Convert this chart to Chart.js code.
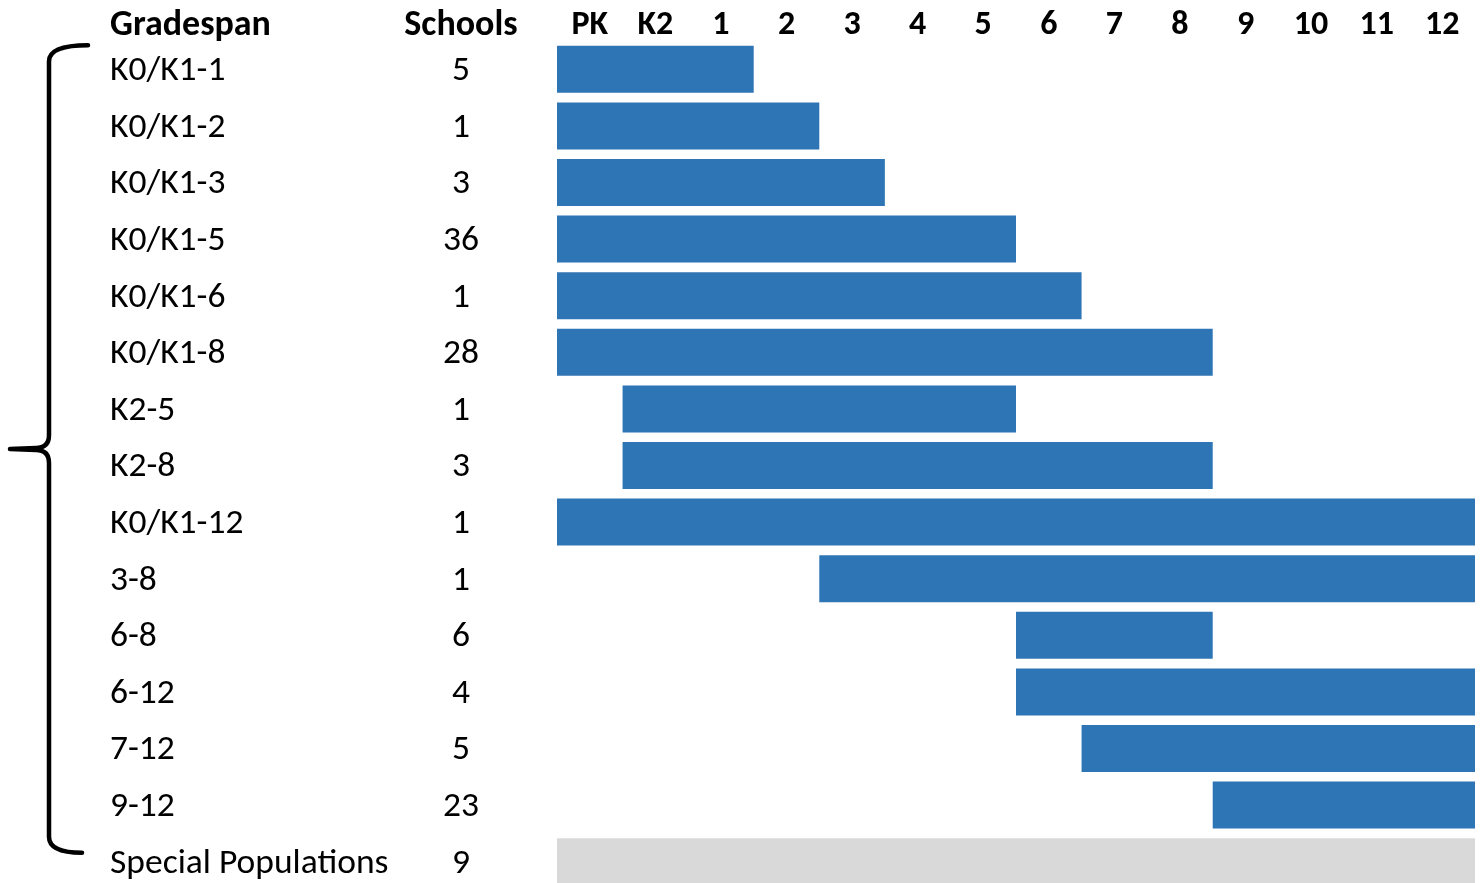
<!DOCTYPE html>
<html>
<head>
<meta charset="utf-8">
<script src="https://cdn.jsdelivr.net/npm/chart.js@4.4.1/dist/chart.umd.min.js"></script>
<style>
  html, body { margin: 0; padding: 0; background: #fff; overflow: hidden; }
  #wrap { width: 1480px; height: 892px; }
</style>
</head>
<body>
<div id="wrap"><canvas id="chart"></canvas></div>
<script>
// строки таблицы
const gradespans = ["K0/K1-1", "K0/K1-2", "K0/K1-3", "K0/K1-5", "K0/K1-6", "K0/K1-8",
  "K2-5", "K2-8", "K0/K1-12", "3-8", "6-8", "6-12", "7-12", "9-12", "Special Populations"];
const schools = [5, 1, 3, 36, 1, 28, 1, 3, 1, 1, 6, 4, 5, 23, 9];

// столбцы классов сверху
const grades = ["PK", "K2", "1", "2", "3", "4", "5", "6", "7", "8", "9", "10", "11", "12"];

// первый и последний класс каждой полосы (как нарисовано)
const spanFrom = ["PK", "PK", "PK", "PK", "PK", "PK", "K2", "K2", "PK", "3", "6", "6", "7", "9", "PK"];
const spanTo   = ["1", "2", "3", "5", "6", "8", "5", "8", "12", "12", "8", "12", "12", "12", "12"];

const BLUE = "#2E75B6", GREY = "#D9D9D9";
const FONT = "Carlito, Calibri, Lato, sans-serif";

const bars = spanFrom.map((g, i) => [grades.indexOf(g), grades.indexOf(spanTo[i]) + 1]);
const colors = gradespans.map(n => n === "Special Populations" ? GREY : BLUE);

// без лишних отступов от подписей осей
const noPad = s => { s.paddingTop = 0; s.paddingBottom = 0; };

// заголовки колонок и фигурная скобка
const extras = {
  id: "extras",
  afterDraw(chart) {
    const { ctx, scales } = chart;
    const y = scales.y;
    ctx.save();
    ctx.fillStyle = "#000";
    ctx.font = "bold 36px " + FONT;
    ctx.textBaseline = "middle";
    ctx.textAlign = "left";
    ctx.fillText("Gradespan", 110, 26);
    ctx.textAlign = "center";
    ctx.fillText("Schools", 461, 26);

    const top = y.getPixelForValue(0) - 24;
    const bot = y.getPixelForValue(gradespans.length - 1) - 9;
    const mid = (top + bot) / 2;
    const vx = 49;
    ctx.strokeStyle = "#000";
    ctx.lineWidth = 4.5;
    ctx.lineCap = "round";
    ctx.lineJoin = "round";
    ctx.beginPath();
    ctx.moveTo(88, top);
    ctx.quadraticCurveTo(vx, top, vx, top + 16);
    ctx.lineTo(vx, mid - 14);
    ctx.quadraticCurveTo(vx, mid - 1, 36, mid - 1);
    ctx.lineTo(10, mid);
    ctx.moveTo(10, mid);
    ctx.lineTo(36, mid + 1);
    ctx.quadraticCurveTo(vx, mid + 1, vx, mid + 14);
    ctx.lineTo(vx, bot - 16);
    ctx.quadraticCurveTo(vx, bot, 82, bot);
    ctx.stroke();
    ctx.restore();
  }
};

new Chart(document.getElementById("chart"), {
  type: "bar",
  data: {
    labels: gradespans,
    datasets: [{
      data: bars,
      backgroundColor: colors,
      borderWidth: 0,
      borderSkipped: false,
      barPercentage: 0.83,
      categoryPercentage: 1
    }]
  },
  options: {
    indexAxis: "y",
    responsive: true,
    maintainAspectRatio: false,
    animation: false,
    layout: { padding: { left: 110, right: 5, top: 0, bottom: 2 } },
    plugins: { legend: { display: false }, tooltip: { enabled: false } },
    scales: {
      x: { type: "linear", min: 0, max: grades.length, display: false },
      x2: {
        type: "category", position: "top", labels: grades, offset: true,
        grid: { display: false, drawTicks: false }, border: { display: false },
        ticks: { color: "#000", padding: -1, maxRotation: 0, autoSkip: false,
                 font: { family: FONT, size: 34, weight: "bold", lineHeight: 1 } },
        afterFit: s => { s.height = 41; }
      },
      y: {
        type: "category", position: "left", weight: 2,
        grid: { display: false, drawTicks: false }, border: { display: false },
        ticks: { color: "#000", crossAlign: "far", padding: 0, autoSkip: false, labelOffset: 2,
                 font: { family: FONT, size: 35.5 } },
        afterFit: s => { s.width = 300; noPad(s); }
      },
      y2: {
        type: "category", position: "left", weight: 1, labels: schools.map(String),
        grid: { display: false, drawTicks: false }, border: { display: false },
        ticks: { color: "#000", crossAlign: "center", padding: 78, autoSkip: false, labelOffset: 2,
                 font: { family: FONT, size: 35.5 } },
        afterFit: s => { s.width = 147; noPad(s); }
      }
    }
  },
  plugins: [extras]
});
</script>
</body>
</html>
